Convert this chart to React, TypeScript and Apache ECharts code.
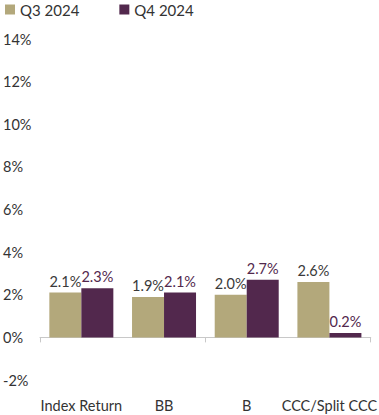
import React, { useEffect, useRef } from "react";
import * as echarts from "echarts";

const categories = ["Index Return", "BB", "B", "CCC/Split CCC"];
const q3Values = [2.1, 1.9, 2.0, 2.6];
const q4Values = [2.3, 2.1, 2.7, 0.2];
const seriesNames = ["Q3 2024", "Q4 2024"];

const FONT = "Lato";

export default function App() {
  const ref = useRef<HTMLDivElement>(null);
  useEffect(() => {
    if (!ref.current) return;
    const chart = echarts.init(ref.current, undefined, { renderer: "svg" });
    chart.setOption({
      animation: false,
      textStyle: { fontFamily: FONT },
      legend: {
        left: 0,
        top: -3,
        itemWidth: 10,
        itemHeight: 10,
        itemGap: 40,
        icon: "rect",
        textStyle: { fontFamily: FONT, fontSize: 15, color: "#333" },
        data: seriesNames,
      },
      grid: { left: 38, right: 1, top: 39, bottom: 35, containLabel: false },
      xAxis: [
        {
          type: "category",
          data: categories,
          position: "bottom",
          axisLine: { show: false, onZero: false },
          axisTick: { show: false },
          axisLabel: { fontFamily: FONT, fontSize: 14.5, color: "#333", margin: 18, interval: 0 },
        },
        {
          type: "category",
          data: categories,
          position: "bottom",
          axisLine: { show: true, onZero: true, lineStyle: { color: "#c8c8c8", width: 1 } },
          axisTick: { show: true, length: 5, inside: false, lineStyle: { color: "#c8c8c8" } },
          axisLabel: { show: false },
        },
      ],
      yAxis: {
        type: "value",
        min: -2,
        max: 14,
        interval: 2,
        splitLine: { show: false },
        axisLine: { show: false },
        axisTick: { show: false },
        axisLabel: {
          formatter: "{value}%",
          fontFamily: FONT,
          fontSize: 14.5,
          color: "#333",
          align: "left",
          margin: 37,
        },
      },
      series: [
        {
          name: seriesNames[0],
          type: "bar",
          data: q3Values,
          xAxisIndex: 0,
          barWidth: 32,
          barGap: "0%",
          itemStyle: { color: "#b3a87b" },
          label: {
            show: true,
            position: "top",
            formatter: (p: any) => p.value.toFixed(1) + "%",
            fontFamily: FONT,
            fontSize: 14.5,
            color: "#3a3a3a",
            distance: 4,
          },
        },
        {
          name: seriesNames[1],
          type: "bar",
          data: q4Values,
          xAxisIndex: 0,
          barWidth: 32,
          barGap: "0%",
          itemStyle: { color: "#52284d" },
          label: {
            show: true,
            position: "top",
            formatter: (p: any) => p.value.toFixed(1) + "%",
            fontFamily: FONT,
            fontSize: 14.5,
            color: "#52284d",
            distance: 4,
          },
        },
      ],
    });
    return () => chart.dispose();
  }, []);
  return <div ref={ref} style={{ width: 379, height: 415, position: "absolute", left: 0, top: 0 }} />;
}
